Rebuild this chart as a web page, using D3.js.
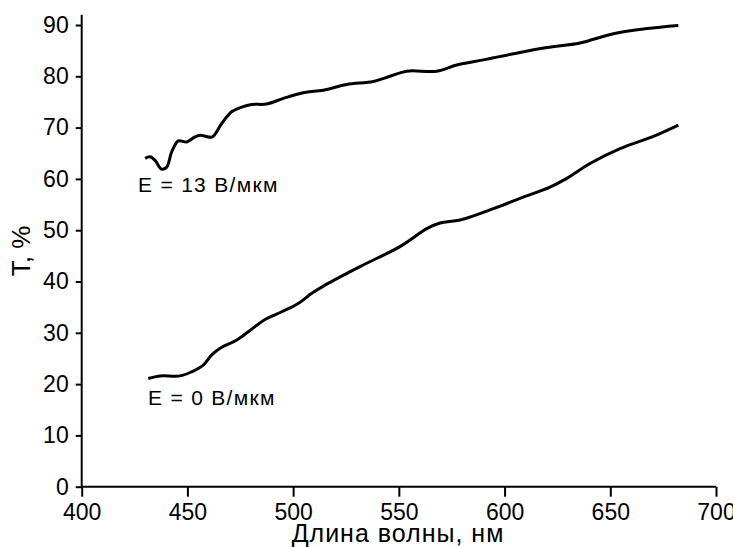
<!DOCTYPE html>
<html>
<head>
<meta charset="utf-8">
<script src="https://cdn.jsdelivr.net/npm/d3@7"></script>
<style>
  body { margin: 0; background: #fff; }
  text { font-family: "Liberation Sans", Arial, sans-serif; fill: #000; }
</style>
</head>
<body>
<svg id="chart"></svg>
<script>
// chart size
var width = 733;
var height = 547;

// data: wavelength (nm) and transmission T (%)
var waveHigh = [430, 432.3, 434.7, 437.8, 440.2, 442.6, 445.7, 449.7, 453.6, 456, 458.5, 461.8, 466.2, 470.9, 475.7, 480.4,
  487.5, 495.4, 504.8, 514.3, 525.3, 537.9, 545.8, 553.7, 567.9, 577.4, 590, 604.2, 620, 635.7, 651.5, 667.3, 682.2];
var transHigh = [64.0, 64.3, 63.6, 61.9, 62.3, 65.3, 67.4, 67.2, 68.2, 68.5, 68.3, 68.2, 70.8, 73.1, 74.0, 74.5,
  74.6, 75.7, 76.8, 77.3, 78.4, 79.0, 80.0, 81.0, 81.0, 82.2, 83.2, 84.4, 85.6, 86.5, 88.3, 89.3, 89.9];

var waveLow = [431.5, 437, 446.5, 452, 457.5, 461.5, 466.2, 472.5, 478.8, 486.7, 494.6, 502.4, 508.8, 515.1,
  531.6, 550.5, 563.2, 569.5, 579, 594.7, 607.3, 621.5, 629.4, 640.4, 654.6, 670.4, 682.2];
var transLow = [21.1, 21.6, 21.6, 22.4, 23.7, 25.7, 27.2, 28.4, 30.2, 32.6, 34.1, 35.7, 37.7, 39.3,
  42.9, 46.8, 50.3, 51.4, 52.0, 54.2, 56.2, 58.4, 60.1, 63.0, 65.9, 68.3, 70.5];

var xTicks = [400, 450, 500, 550, 600, 650, 700];
var xMinor = [425, 475, 525, 575, 625, 675];
var yTicks = [0, 10, 20, 30, 40, 50, 60, 70, 80, 90];
var yMinor = [5, 15, 25, 35, 45, 55, 65, 75, 85];

var series = [
  {label: 'E = 13 В/мкм', x: waveHigh, y: transHigh, lx: 138, ly: 192},
  {label: 'E = 0 В/мкм', x: waveLow, y: transLow, lx: 148, ly: 405}
];

var svg = d3.select('#chart')
  .attr('width', width)
  .attr('height', height);

var scaleX = d3.scaleLinear().domain([400, 700]).range([81.7, 716]);
var scaleY = d3.scaleLinear().domain([0, 90]).range([486.7, 25]);

// x axis
var gx = svg.append('g').attr('transform', 'translate(0,' + scaleY(0) + ')');
gx.call(d3.axisBottom(scaleX).tickValues(xMinor).tickSize(5).tickFormat(''));
gx.call(d3.axisBottom(scaleX).tickValues(xTicks).tickSize(10).tickPadding(7).tickSizeOuter(0));
gx.selectAll('.domain').remove();
gx.selectAll('line').attr('stroke', '#000').attr('stroke-width', 2);
gx.selectAll('text').style('font-size', '23px');

// y axis
var gy = svg.append('g').attr('transform', 'translate(' + scaleX(400) + ',0)');
gy.call(d3.axisLeft(scaleY).tickValues(yMinor).tickSize(3).tickFormat(''));
gy.call(d3.axisLeft(scaleY).tickValues(yTicks).tickSize(6).tickPadding(7).tickSizeOuter(0));
gy.selectAll('.domain').remove();
gy.selectAll('line').attr('stroke', '#000').attr('stroke-width', 2);
gy.selectAll('text').style('font-size', '23px');

// axis lines
svg.append('line')
  .attr('x1', scaleX(400)).attr('x2', scaleX(400))
  .attr('y1', scaleY(0)).attr('y2', scaleY(92))
  .attr('stroke', '#000').attr('stroke-width', 2);
svg.append('line')
  .attr('x1', scaleX(400)).attr('x2', scaleX(700))
  .attr('y1', scaleY(0)).attr('y2', scaleY(0))
  .attr('stroke', '#000').attr('stroke-width', 2);

// curves
var line = d3.line()
  .x(d => scaleX(d[0]))
  .y(d => scaleY(d[1]))
  .curve(d3.curveCatmullRom);

svg.selectAll('path.curve')
  .data(series)
  .enter()
  .append('path')
    .attr('class', 'curve')
    .attr('d', s => line(d3.zip(s.x, s.y)))
    .attr('fill', 'none')
    .attr('stroke', '#000')
    .attr('stroke-width', 3)
    .attr('stroke-linejoin', 'round');

// curve labels
svg.selectAll('text.lbl')
  .data(series)
  .enter()
  .append('text')
    .attr('class', 'lbl')
    .attr('x', s => s.lx)
    .attr('y', s => s.ly)
    .style('font-size', '21px')
    .style('letter-spacing', '1.3px')
    .text(s => s.label);

// axis titles
svg.append('text')
  .attr('x', 398)
  .attr('y', 542)
  .attr('text-anchor', 'middle')
  .style('font-size', '25px')
  .style('letter-spacing', '1px')
  .text('Длина волны, нм');

svg.append('text')
  .attr('transform', 'translate(30,251) rotate(-90)')
  .attr('text-anchor', 'middle')
  .style('font-size', '26px')
  .text('Т, %');
</script>
</body>
</html>
